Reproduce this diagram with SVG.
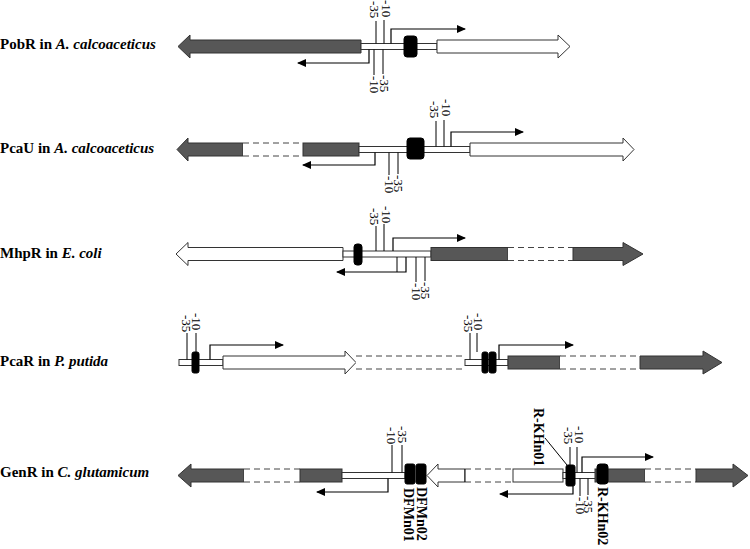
<svg xmlns="http://www.w3.org/2000/svg" width="750" height="549" viewBox="0 0 750 549">
<style>
.lbl{font-family:"Liberation Serif",serif;font-size:15px;font-weight:bold;fill:#000}
.num{font-family:"Liberation Serif",serif;font-size:13px;fill:#000}
.site{font-family:"Liberation Serif",serif;font-size:14px;font-weight:bold;fill:#000}
.g{fill:#575757;stroke:#333;stroke-width:1}
.w{fill:#fff;stroke:#333;stroke-width:1}
.p{fill:#fff;stroke:#333;stroke-width:1}
.b{fill:#000;stroke:#000;stroke-width:1}
.d{fill:#fff;stroke:none}
.dl{stroke:#444;stroke-width:1;stroke-dasharray:6,4;fill:none}
.ln{stroke:#000;stroke-width:1;fill:none}
.ar{stroke:#000;stroke-width:1.2;fill:none;marker-end:url(#ah)}
</style>
<defs>
<marker id="ah" markerUnits="userSpaceOnUse" markerWidth="9" markerHeight="8" refX="8" refY="4" orient="auto">
<path d="M0,0 L9,4 L0,8 z" fill="#000"/>
</marker>
</defs>

<g id="labels">
<text class="lbl" x="0" y="49">PobR in <tspan font-style="italic">A. calcoaceticus</tspan></text>
<text class="lbl" x="0" y="153">PcaU in <tspan font-style="italic">A. calcoaceticus</tspan></text>
<text class="lbl" x="0" y="258">MhpR in <tspan font-style="italic">E. coli</tspan></text>
<text class="lbl" x="0" y="366">PcaR in <tspan font-style="italic">P. putida</tspan></text>
<text class="lbl" x="0" y="477">GenR in <tspan font-style="italic">C. glutamicum</tspan></text>
</g>

<!-- Row 1 PobR -->
<g id="row1">
<polygon class="g" points="178,46.5 190,35 190,40 361,40 361,53 190,53 190,58"/>
<rect class="p" x="361" y="43.5" width="76" height="6"/>
<rect class="b" x="404" y="36" width="13" height="21" rx="3"/>
<polygon class="w" points="437,40 558,40 558,35 570,46.5 558,58 558,53 437,53"/>
<line class="ln" x1="376" y1="21" x2="376" y2="43.5"/>
<line class="ln" x1="384" y1="20" x2="384" y2="43.5"/>
<text class="num" transform="translate(369.5,1) rotate(90)">-35</text>
<text class="num" transform="translate(381.5,0) rotate(90)">-10</text>
<line class="ln" x1="374" y1="49.5" x2="374" y2="75"/>
<line class="ln" x1="383" y1="49.5" x2="383" y2="74"/>
<text class="num" transform="translate(370,76) rotate(90)">-10</text>
<text class="num" transform="translate(380,75) rotate(90)">-35</text>
</g>

<!-- Row 2 PcaU -->
<g id="row2">
<polygon class="g" points="177,149.5 188,138 188,143 243,143 243,156 188,156 188,161"/>
<rect class="d" x="243" y="143" width="60" height="13"/>
<line class="dl" x1="243" y1="143" x2="303" y2="143"/>
<line class="dl" x1="243" y1="156" x2="303" y2="156"/>
<rect class="g" x="303" y="143" width="56" height="13"/>
<rect class="p" x="359" y="146.5" width="111" height="6"/>
<rect class="b" x="407" y="138" width="17" height="21" rx="3"/>
<polygon class="w" points="470,143 623,143 623,138 634,149.5 623,161 623,156 470,156"/>
<line class="ln" x1="436" y1="121" x2="436" y2="146.5"/>
<line class="ln" x1="444" y1="120" x2="444" y2="146.5"/>
<text class="num" transform="translate(429.5,101) rotate(90)">-35</text>
<text class="num" transform="translate(441.5,99) rotate(90)">-10</text>
<line class="ln" x1="389" y1="152.5" x2="389" y2="175"/>
<line class="ln" x1="398" y1="152.5" x2="398" y2="174"/>
<text class="num" transform="translate(384.5,176) rotate(90)">-10</text>
<text class="num" transform="translate(393.5,175) rotate(90)">-35</text>
</g>

<!-- Row 3 MhpR -->
<g id="row3">
<polygon class="w" points="176,254 188,242.5 188,247.5 343,247.5 343,260.5 188,260.5 188,265.5"/>
<rect class="p" x="343" y="251" width="88" height="6"/>
<rect class="b" x="354" y="244" width="8" height="21" rx="3"/>
<rect class="g" x="431" y="247.5" width="77" height="13"/>
<rect class="d" x="508" y="247.5" width="65" height="13"/>
<line class="dl" x1="508" y1="247.5" x2="573" y2="247.5"/>
<line class="dl" x1="508" y1="260.5" x2="573" y2="260.5"/>
<polygon class="g" points="573,247.5 623,247.5 623,242.5 643,254 623,265.5 623,260.5 573,260.5"/>
<line class="ln" x1="376" y1="226" x2="376" y2="251"/>
<line class="ln" x1="384" y1="224" x2="384" y2="251"/>
<text class="num" transform="translate(369.5,208) rotate(90)">-35</text>
<text class="num" transform="translate(381.5,206) rotate(90)">-10</text>
<line class="ln" x1="397" y1="257" x2="397" y2="272"/>
<line class="ln" x1="416" y1="257" x2="416" y2="282"/>
<line class="ln" x1="425" y1="257" x2="425" y2="281"/>
<text class="num" transform="translate(411.5,283) rotate(90)">-10</text>
<text class="num" transform="translate(420.5,282) rotate(90)">-35</text>
</g>

<!-- Row 4 PcaR -->
<g id="row4">
<rect class="p" x="179" y="359.5" width="44" height="6"/>
<rect class="b" x="192" y="352" width="7" height="21" rx="2"/>
<polygon class="w" points="223,356 345,356 345,351 356,362.5 345,374 345,369 223,369"/>
<rect class="d" x="356" y="356" width="109" height="13"/>
<line class="dl" x1="356" y1="356" x2="465" y2="356"/>
<line class="dl" x1="356" y1="369" x2="465" y2="369"/>
<rect class="p" x="465" y="359.5" width="43" height="6"/>
<rect class="b" x="482" y="352" width="6" height="21" rx="2"/>
<rect class="b" x="489" y="352" width="7" height="21" rx="2"/>
<rect class="g" x="508" y="356" width="52" height="13"/>
<rect class="d" x="560" y="356" width="80" height="13"/>
<line class="dl" x1="560" y1="356" x2="640" y2="356"/>
<line class="dl" x1="560" y1="369" x2="640" y2="369"/>
<polygon class="g" points="640,356 703,356 703,351 722,362.5 703,374 703,369 640,369"/>
<line class="ln" x1="187" y1="333" x2="187" y2="359.5"/>
<line class="ln" x1="196" y1="333" x2="196" y2="352"/>
<text class="num" transform="translate(181.5,315) rotate(90)">-35</text>
<text class="num" transform="translate(191.5,313) rotate(90)">-10</text>
<line class="ln" x1="470" y1="333" x2="470" y2="359.5"/>
<line class="ln" x1="477" y1="333" x2="477" y2="352"/>
<text class="num" transform="translate(463.5,315) rotate(90)">-35</text>
<text class="num" transform="translate(473.5,313) rotate(90)">-10</text>
</g>

<!-- Row 5 GenR -->
<g id="row5">
<polygon class="g" points="178,475.5 191,464 191,469 244,469 244,482 191,482 191,487"/>
<rect class="d" x="244" y="469" width="56" height="13"/>
<line class="dl" x1="244" y1="469" x2="300" y2="469"/>
<line class="dl" x1="244" y1="482" x2="300" y2="482"/>
<rect class="g" x="300" y="469" width="42" height="13"/>
<rect class="p" x="342" y="472.5" width="63" height="6"/>
<polygon class="w" points="427,475.5 438,464 438,469 465,469 465,482 438,482 438,487"/>
<rect class="d" x="465" y="469" width="48" height="13"/>
<line class="dl" x1="465" y1="469" x2="513" y2="469"/>
<line class="dl" x1="465" y1="482" x2="513" y2="482"/>
<line class="ln" x1="465" y1="469" x2="465" y2="482"/>
<rect class="w" x="513" y="469" width="50" height="13"/>
<rect class="p" x="563" y="472.5" width="34" height="6"/>
<rect class="g" x="595" y="469" width="50" height="13"/>
<rect class="d" x="645" y="469" width="51" height="13"/>
<line class="dl" x1="645" y1="469" x2="696" y2="469"/>
<line class="dl" x1="645" y1="482" x2="696" y2="482"/>
<polygon class="g" points="696,469 733,469 733,464 748,475.5 733,487 733,482 696,482"/>
<rect class="b" x="405" y="464" width="10" height="20" rx="2"/>
<rect class="b" x="416" y="464" width="10" height="20" rx="2"/>
<rect class="b" x="566" y="465" width="9" height="21" rx="2"/>
<rect class="b" x="597" y="464" width="11" height="20" rx="3"/>
<line class="ln" x1="392" y1="445" x2="392" y2="472.5"/>
<line class="ln" x1="402" y1="445" x2="402" y2="472.5"/>
<text class="num" transform="translate(386.5,427) rotate(90)">-10</text>
<text class="num" transform="translate(397.5,426) rotate(90)">-35</text>
<text class="site" transform="translate(404,488) rotate(90)">DFMn01</text>
<text class="site" transform="translate(417,487) rotate(90)">DFMn02</text>
<text class="site" transform="translate(534,408) rotate(90)">R-KHn01</text>
<line class="ln" x1="545" y1="438" x2="567" y2="465"/>
<line class="ln" x1="570" y1="447" x2="570" y2="465"/>
<line class="ln" x1="577" y1="447" x2="577" y2="472.5"/>
<text class="num" transform="translate(563.5,427) rotate(90)">-35</text>
<text class="num" transform="translate(574.5,426) rotate(90)">-10</text>
<line class="ln" x1="580" y1="478.5" x2="580" y2="496"/>
<line class="ln" x1="588" y1="478.5" x2="588" y2="495"/>
<text class="num" transform="translate(575.5,497) rotate(90)">-10</text>
<text class="num" transform="translate(583.5,496) rotate(90)">-35</text>
<text class="site" transform="translate(598,487) rotate(90)">R-KHn02</text>
</g>

<g id="connectors">
<path class="ar" d="M391,43.5 V29 H465"/>
<path class="ar" d="M369,49.5 V63 H298"/>
<path class="ar" d="M451,146.5 V132 H523"/>
<path class="ar" d="M375,152.5 V165 H303"/>
<path class="ar" d="M393,251 V238 H465"/>
<path class="ar" d="M406,257 V272 H337"/>
<path class="ar" d="M210,359.5 V345 H283"/>
<path class="ar" d="M499,359.5 V345 H573"/>
<path class="ar" d="M388,478.5 V492 H317"/>
<path class="ar" d="M582,472.5 V457 H653"/>
<path class="ar" d="M573,486 V494 H500"/>
</g>
</svg>
